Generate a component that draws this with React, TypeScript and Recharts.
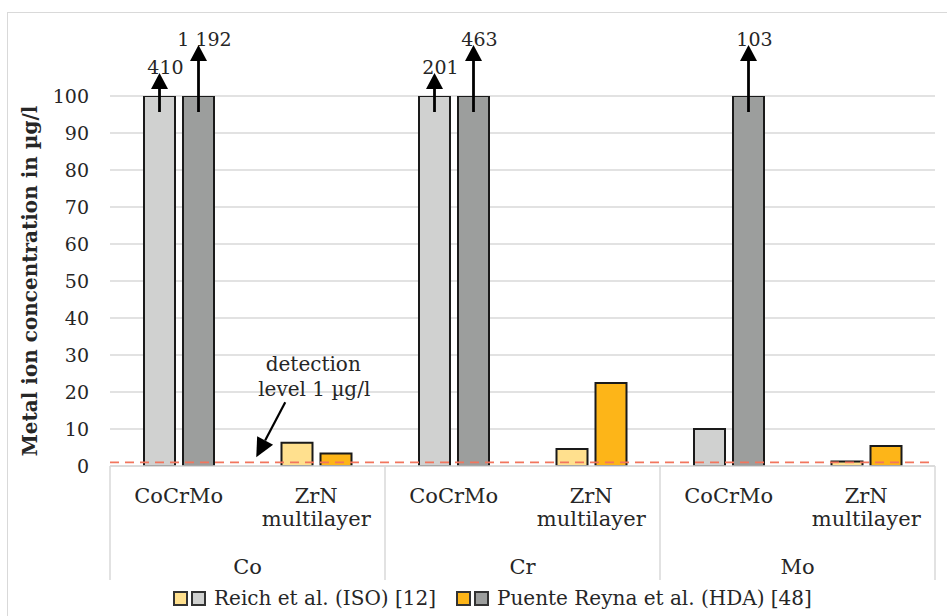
import React from "react";
import { BarChart, Bar, XAxis, YAxis, CartesianGrid, ReferenceLine, ReferenceDot, Legend, Cell, Label } from "recharts";

const groups = ["Co", "Co", "Cr", "Cr", "Mo", "Mo"];
const materials = ["CoCrMo", "ZrN multilayer", "CoCrMo", "ZrN multilayer", "CoCrMo", "ZrN multilayer"];
const reichValues = [410, 6.3, 201, 4.6, 10, 1.2];
const puenteValues = [1192, 3.4, 463, 22.4, 103, 5.4];
const yTicks = [0, 10, 20, 30, 40, 50, 60, 70, 80, 90, 100];
const axisMax = 100;
const detectionLevel = 1;
const detectionText = ["detection", "level 1 µg/l"];
const legendLabels = ["Reich et al. (ISO) [12]", "Puente Reyna et al. (HDA) [48]"];
const yTitle = "Metal ion concentration in µg/l";

const FONT = "'DejaVu Serif', Georgia, serif";
const TEXT = "#262626";
const colors = {
  reichAlloy: "#D0D1D0",
  puenteAlloy: "#9C9E9D",
  reichCoat: "#FFE08E",
  puenteCoat: "#FDB518",
};

const data = groups.map((g, i) => ({
  key: `${g}|${materials[i]}|${i}`,
  group: g,
  material: materials[i],
  reich: Math.min(reichValues[i], axisMax),
  puente: Math.min(puenteValues[i], axisMax),
}));

const fmt = (v: number) => (v >= 1000 ? `${Math.floor(v / 1000)} ${String(v % 1000).padStart(3, "0")}` : String(v));

const makeArrow = (actual: number[], rise: number) => (props: any) => {
  const { x, y, width, index } = props;
  const v = actual[index];
  if (v == null || v <= axisMax) return null;
  const cx = Number(x) + Number(width) / 2;
  const top = Number(y);
  const tip = top - rise;
  const head = 16;
  return (
    <g>
      <line x1={cx} y1={top + 16} x2={cx} y2={tip + head - 2} stroke="#000" strokeWidth={2.8} />
      <polygon points={`${cx - 8.5},${tip + head} ${cx + 8.5},${tip + head} ${cx},${tip}`} fill="#000" />
      <text x={cx + 6} y={tip + 1} textAnchor="middle" fontFamily={FONT} fontSize={19} fill={TEXT}>
        {fmt(v)}
      </text>
    </g>
  );
};

const XTick = (props: any) => {
  const { x, y, payload, index } = props;
  const half = payload && payload.offset ? payload.offset : 68.75;
  const idx = typeof index === "number" ? index : 0;
  const mat = materials[idx] || "";
  const lines = mat.split(" ");
  const out: any[] = [];
  lines.forEach((ln, k) => {
    out.push(
      <text key={"t" + k} x={x} y={y + 37 + k * 23} textAnchor="middle" fontFamily={FONT} fontSize={21} fill={TEXT}>
        {ln}
      </text>
    );
  });
  if (idx % 2 === 0) {
    out.push(<line key="sepL" x1={x - half} x2={x - half} y1={y} y2={y + 114} stroke="#d9d9d9" strokeWidth={1.5} />);
    out.push(
      <text key="grp" x={x + half} y={y + 108} textAnchor="middle" fontFamily={FONT} fontSize={21} fill={TEXT}>
        {groups[idx]}
      </text>
    );
  }
  if (idx === materials.length - 1) {
    out.push(<line key="sepR" x1={x + half} x2={x + half} y1={y} y2={y + 114} stroke="#d9d9d9" strokeWidth={1.5} />);
  }
  return <g>{out}</g>;
};

const renderTitle = (props: any) => {
  const vb = props.viewBox || { x: 0, y: 96, width: 110, height: 370 };
  const cx = vb.x + 30;
  const cy = vb.y + vb.height / 2;
  return (
    <text
      x={cx}
      y={cy}
      transform={`rotate(-90 ${cx} ${cy})`}
      textAnchor="middle"
      dominantBaseline="central"
      fontFamily={FONT}
      fontWeight="bold"
      fontSize={20}
      fill={TEXT}
    >
      {yTitle}
    </text>
  );
};

const DetectionNote = (props: any) => {
  const { cx, cy } = props;
  if (cx == null || cy == null) return null;
  const x0 = cx - 31;
  const y0 = cy - 60;
  const x1 = cx - 60;
  const y1 = cy - 5;
  const ang = Math.atan2(y1 - y0, x1 - x0);
  const hl = 19;
  const hw = 9;
  const bx = x1 - hl * Math.cos(ang);
  const by = y1 - hl * Math.sin(ang);
  const px = -Math.sin(ang) * hw;
  const py = Math.cos(ang) * hw;
  return (
    <g>
      <text x={cx - 3} y={cy - 91} textAnchor="middle" fontFamily={FONT} fontSize={20} fill={TEXT}>
        {detectionText[0]}
      </text>
      <text x={cx - 2} y={cy - 66} textAnchor="middle" fontFamily={FONT} fontSize={20} fill={TEXT}>
        {detectionText[1]}
      </text>
      <line x1={x0} y1={y0} x2={bx} y2={by} stroke="#000" strokeWidth={2.2} />
      <polygon points={`${x1},${y1} ${bx + px},${by + py} ${bx - px},${by - py}`} fill="#000" />
    </g>
  );
};

const Sq = ({ c }: { c: string }) => (
  <span style={{ display: "inline-block", width: 11, height: 11, background: c, border: "2px solid #333", marginRight: 3 }} />
);

const LegendContent = () => (
  <div style={{ height: 36, display: "flex", alignItems: "center", paddingLeft: 173, fontFamily: FONT, fontSize: 20, color: TEXT, whiteSpace: "nowrap" }}>
    <Sq c={colors.reichCoat} />
    <Sq c={colors.reichAlloy} />
    <span style={{ marginLeft: 5, marginRight: 20 }}>{legendLabels[0]}</span>
    <Sq c={colors.puenteCoat} />
    <Sq c={colors.puenteAlloy} />
    <span style={{ marginLeft: 5 }}>{legendLabels[1]}</span>
  </div>
);

export default function App() {
  return (
    <div style={{ position: "absolute", left: 0, top: 0, width: 947, height: 616, overflow: "hidden", background: "#fff" }}>
      <div
        style={{
          position: "absolute",
          left: 7,
          top: 12,
          width: 945,
          height: 610,
          border: "1.5px solid #d9d9d9",
          boxSizing: "border-box",
        }}
      />
      <div style={{ position: "absolute", left: 0, top: 0 }}>
        <BarChart
          width={947}
          height={616}
          data={data}
          margin={{ top: 96, right: 12, left: 0, bottom: 0 }}
          barSize={31}
          barGap={8}
        >
          <CartesianGrid vertical={false} stroke="#d9d9d9" strokeWidth={1.5} />
          <XAxis
            dataKey="key"
            height={114}
            tickLine={false}
            tickSize={0}
            tickMargin={0}
            axisLine={{ stroke: "#d9d9d9", strokeWidth: 1.5 }}
            tick={<XTick />}
            interval={0}
          />
          <YAxis
            width={110}
            domain={[0, axisMax]}
            ticks={yTicks}
            tickLine={false}
            axisLine={false}
            tickMargin={15}
            tick={{ fontFamily: FONT, fontSize: 19, fill: TEXT }}
            allowDataOverflow
          >
            <Label content={renderTitle} />
          </YAxis>
          <Bar dataKey="reich" isAnimationActive={false} stroke="#1a1a1a" strokeWidth={2} label={makeArrow(reichValues, 23)}>
            {data.map((d, i) => (
              <Cell key={i} fill={i % 2 === 0 ? colors.reichAlloy : colors.reichCoat} />
            ))}
          </Bar>
          <Bar dataKey="puente" isAnimationActive={false} stroke="#1a1a1a" strokeWidth={2} label={makeArrow(puenteValues, 51)}>
            {data.map((d, i) => (
              <Cell key={i} fill={i % 2 === 0 ? colors.puenteAlloy : colors.puenteCoat} />
            ))}
          </Bar>
          <ReferenceLine y={detectionLevel} stroke="#F2765E" strokeWidth={1.8} strokeDasharray="9 6" />
          <ReferenceDot x={data[1].key} y={detectionLevel} r={0} shape={<DetectionNote />} />
          <Legend
            verticalAlign="bottom"
            align="left"
            wrapperStyle={{ left: 0, width: 947, height: 36 }}
            content={<LegendContent />}
          />
        </BarChart>
      </div>
    </div>
  );
}
